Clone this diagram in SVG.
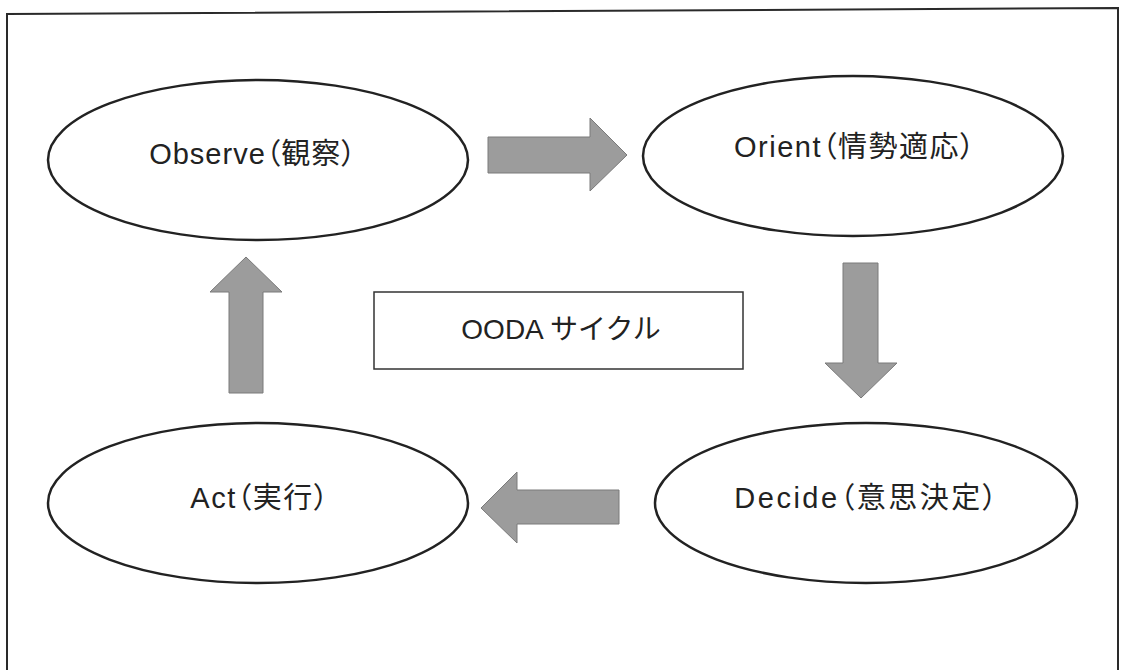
<svg xmlns="http://www.w3.org/2000/svg" width="1121" height="670" viewBox="0 0 1121 670">
<style>
.bg{fill:#ffffff}
.frame{fill:none;stroke:#2a2a2a;stroke-width:2}
.node{fill:#ffffff;stroke:#222222;stroke-width:2.5}
.box{fill:#ffffff;stroke:#333333;stroke-width:1.5}
.arrow{fill:#9c9c9c;stroke:#7a7a7a;stroke-width:1}
.lbl{font-family:"Liberation Sans","Noto Sans CJK JP",sans-serif;font-size:29px;fill:#222222;text-anchor:middle;font-feature-settings:"palt"}
.title{font-size:28px;font-feature-settings:normal}
</style>
<rect class="bg" x="0" y="0" width="1121" height="670"/>
<polyline class="frame" points="7,670 7,14 1118,8 1118,670"/>
<g id="connectors">
  <polygon class="arrow" points="488,137 590,137 590,118 627,155 590,191 590,173 488,173"/>
  <polygon class="arrow" points="843,263 878,263 878,363 897,363 861,398 825,363 843,363"/>
  <polygon class="arrow" points="619,490 517,490 517,472 481,508 517,543 517,524 619,524"/>
  <polygon class="arrow" points="229,393 229,292 210,292 246,257 282,292 263,292 263,393"/>
</g>
<g id="observe">
  <ellipse class="node" cx="258" cy="160" rx="210" ry="80"/>
  <text class="lbl" x="253" y="164" letter-spacing="1">Observe（観察）</text>
</g>
<g id="orient">
  <ellipse class="node" cx="853" cy="156" rx="210" ry="80"/>
  <text class="lbl" x="855" y="157" letter-spacing="1.5">Orient（情勢適応）</text>
</g>
<g id="decide">
  <ellipse class="node" cx="866" cy="503" rx="211" ry="80"/>
  <text class="lbl" x="867" y="508" letter-spacing="2.5">Decide（意思決定）</text>
</g>
<g id="act">
  <ellipse class="node" cx="258" cy="503" rx="210" ry="80"/>
  <text class="lbl" x="260" y="508" letter-spacing="1.5">Act（実行）</text>
</g>
<g id="ooda">
  <rect class="box" x="374" y="292" width="369" height="77"/>
  <text class="lbl title" x="561" y="339">OODA サイクル</text>
</g>
</svg>
